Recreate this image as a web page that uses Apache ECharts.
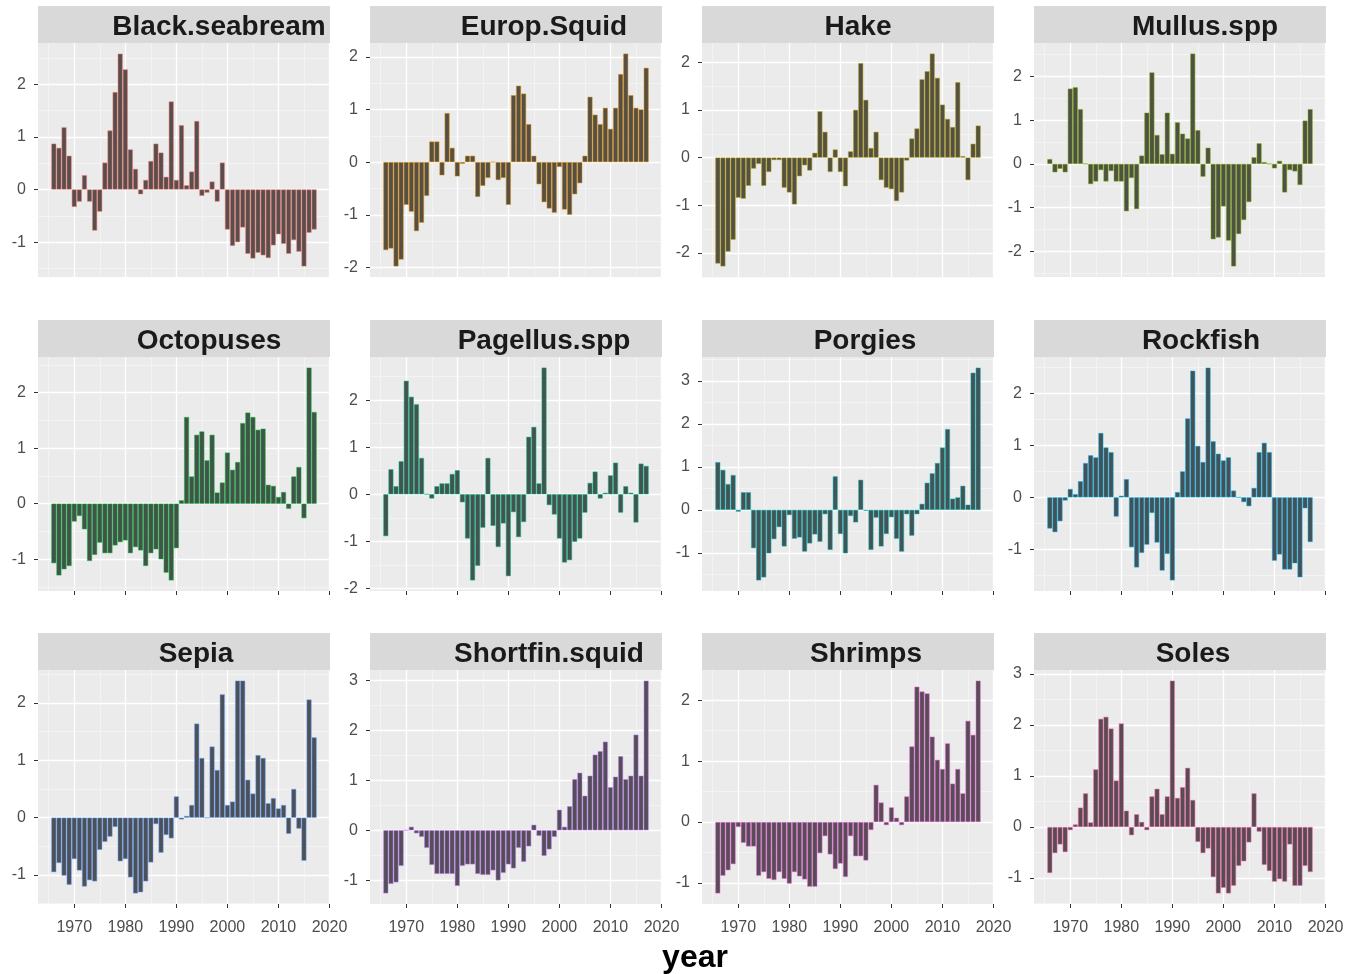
<!DOCTYPE html>
<html>
<head>
<meta charset="utf-8">
<script src="https://cdn.jsdelivr.net/npm/echarts@6/dist/echarts.min.js"></script>
<style>
  html, body { margin: 0; padding: 0; background: #fff; }
  #chart { width: 1352px; height: 974px; }
</style>
</head>
<body>
<div id="chart"></div>
<script>
// anomalies per species, one value per year from 1966 to 2017
var firstYear = 1966;

var blackSeabream = [0.87, 0.79, 1.18, 0.64, -0.33, -0.23, 0.27, -0.23, -0.78, -0.42,
  0.51, 1.12, 1.85, 2.58, 2.28, 0.76, 0.39, -0.09, 0.18, 0.54,
  0.87, 0.70, 0.24, 1.67, 0.18, 1.22, 0.08, 0.34, 1.30, -0.12,
  -0.06, 0.15, -0.23, 0.51, -0.76, -1.07, -1.00, -0.72, -1.22, -1.31,
  -1.20, -1.25, -1.30, -1.06, -0.85, -1.03, -1.22, -0.96, -1.18, -1.46,
  -0.82, -0.76];
var europSquid = [-1.67, -1.64, -1.98, -1.85, -0.81, -0.94, -1.31, -1.15, -0.64, 0.39,
  0.39, -0.25, 0.93, 0.27, -0.27, -0.03, 0.12, 0.12, -0.66, -0.45,
  -0.30, 0, -0.34, -0.30, -0.81, 1.27, 1.45, 1.30, 0.72, 0.12,
  -0.42, -0.76, -0.88, -0.96, -0.09, -0.90, -1.00, -0.61, -0.40, 0.12,
  1.24, 0.90, 0.72, 1.03, 0.63, 1.03, 1.67, 2.06, 1.27, 1.03,
  1.00, 1.79];
var hake = [-2.22, -2.28, -1.97, -1.72, -0.84, -0.86, -0.59, -0.23, -0.13, -0.59,
  -0.30, -0.05, -0.05, -0.63, -0.73, -0.98, -0.39, -0.16, -0.27, 0.10,
  0.97, 0.54, -0.30, 0.17, -0.30, -0.60, 0.13, 1.00, 1.98, 1.21,
  0.20, 0.54, -0.47, -0.63, -0.66, -0.91, -0.73, -0.06, 0.40, 0.61,
  1.64, 1.81, 2.18, 1.67, 1.11, 0.81, 0.64, 1.58, 0.03, -0.47,
  0.29, 0.67];
var mullus = [0.11, -0.19, -0.11, -0.19, 1.72, 1.75, 1.25, 0, -0.46, -0.40,
  -0.14, -0.40, -0.16, -0.40, -0.40, -1.08, -0.32, -1.03, 0.19, 1.17,
  2.09, 0.66, 0.22, 1.17, 0.23, 0.95, 0.69, 0.58, 2.52, 0.77,
  -0.29, 0.37, -1.72, -1.68, -0.97, -1.75, -2.34, -1.60, -1.28, -0.87,
  0.15, 0.47, 0.04, 0, -0.10, 0.07, -0.65, -0.14, -0.17, -0.48,
  0.99, 1.25];
var octopuses = [-1.07, -1.29, -1.18, -1.12, -0.32, -0.22, -0.46, -1.03, -0.92, -0.70,
  -0.89, -0.89, -0.75, -0.69, -0.66, -0.89, -0.78, -0.84, -1.12, -0.89,
  -0.82, -1.00, -1.24, -1.38, -0.80, 0.06, 1.56, 0.49, 1.24, 1.30,
  0.78, 1.24, 0.20, 0.38, 0.92, 0.61, 0.75, 1.45, 1.64, 1.56,
  1.33, 1.35, 0.34, 0.32, 0.12, 0.21, -0.09, 0.49, 0.66, -0.26,
  2.45, 1.65];
var pagellus = [-0.89, 0.53, 0.17, 0.70, 2.41, 2.07, 1.91, 0.77, 0, -0.09,
  0.17, 0.23, 0.23, 0.43, 0.51, -0.17, -0.94, -1.83, -1.52, -0.71,
  0.77, -0.67, -1.12, -0.62, -1.74, -0.38, -0.91, -0.59, 1.22, 1.43,
  0.23, 2.69, -0.23, -0.43, -0.94, -1.45, -1.40, -1.01, -0.94, -0.39,
  0.24, 0.48, -0.09, 0.03, 0.40, 0.67, -0.39, 0.17, 0.03, -0.60,
  0.65, 0.60];
var porgies = [1.11, 0.93, 0.60, 0.81, -0.04, 0.41, 0.41, -0.89, -1.64, -1.57,
  -1.01, -0.68, -0.40, -0.85, -0.12, -0.67, -0.64, -0.97, -0.78, -0.57,
  -0.74, -0.10, -0.93, 0.78, -0.56, -1.01, -0.14, -0.29, 0.70, -0.02,
  -0.93, -0.18, -0.85, -0.56, -0.17, -0.67, -0.97, -0.10, -0.60, -0.10,
  0.14, 0.63, 0.85, 1.09, 1.45, 1.88, 0.26, 0.29, 0.56, 0.12,
  3.19, 3.31];
var rockfish = [-0.60, -0.67, -0.46, -0.06, 0.16, 0.06, 0.31, 0.66, 0.81, 0.77,
  1.24, 0.96, 0.87, -0.37, 0.03, 0.35, -0.96, -1.35, -1.07, -0.91,
  -0.30, -0.87, -1.41, -1.09, -1.60, 0.10, 0.50, 1.52, 2.44, 0.99,
  0.68, 2.50, 1.08, 0.84, 0.71, 0.77, 0.13, 0, -0.09, -0.17,
  0.18, 0.87, 1.05, 0.87, -1.22, -1.10, -1.39, -1.39, -1.27, -1.54,
  -0.21, -0.86];
var sepia = [-0.95, -0.79, -1.01, -1.17, -0.72, -0.92, -1.20, -1.09, -1.11, -0.56,
  -0.42, -0.33, -0.16, -0.76, -0.72, -1.04, -1.32, -1.30, -1.11, -0.78,
  -0.11, -0.61, -0.30, -0.36, 0.37, -0.03, 0.03, 0.22, 1.64, 1.04,
  0, 1.24, 0.83, 2.15, 0.22, 0.28, 2.39, 2.39, 0.66, 0.42,
  1.09, 1.04, 0.25, 0.34, 0.16, 0.22, -0.28, 0.50, -0.19, -0.75,
  2.06, 1.40];
var shortfinSquid = [-1.26, -1.07, -1.04, -0.71, 0, 0.07, -0.06, -0.13, -0.35, -0.69,
  -0.87, -0.87, -0.87, -0.87, -1.11, -0.71, -0.68, -0.68, -0.87, -0.89,
  -0.89, -0.80, -1.00, -0.85, -0.68, -0.76, -0.35, -0.63, -0.32, 0.11,
  -0.11, -0.51, -0.38, -0.13, 0.41, 0.07, 0.48, 1.02, 1.15, 0.69,
  1.09, 1.51, 1.58, 1.77, 0.86, 1.07, 1.48, 1.02, 1.09, 1.91,
  1.09, 2.99];
var shrimps = [-1.17, -0.88, -0.79, -0.69, -0.08, -0.34, -0.40, -0.40, -0.88, -0.82,
  -0.93, -0.95, -0.82, -0.93, -1.01, -0.82, -0.89, -0.94, -1.06, -1.06,
  -0.51, -0.23, -0.53, -0.77, -0.68, -0.90, -0.23, -0.56, -0.56, -0.63,
  -0.13, 0.61, 0.32, -0.05, 0.24, 0.07, -0.05, 0.42, 1.24, 2.22,
  2.14, 2.11, 1.40, 1.02, 0.87, 1.29, 0.63, 0.87, 0.47, 1.66,
  1.43, 2.32];
var soles = [-0.90, -0.51, -0.34, -0.49, -0.06, 0.05, 0.38, 0.66, 0.09, 1.13,
  2.12, 2.16, 1.93, 0.91, 2.03, 0.32, -0.16, 0.25, 0.10, -0.06,
  0.60, 0.75, 0.25, 0.60, 2.87, 0.57, 0.78, 1.16, 0.53, -0.29,
  -0.51, -0.42, -0.98, -1.30, -1.19, -1.30, -1.15, -0.76, -0.67, -0.30,
  0.66, -0.09, -0.74, -0.86, -1.07, -1.02, -1.07, -0.34, -1.15, -1.15,
  -0.76, -0.88];

var speciesNames = ['Black.seabream', 'Europ.Squid', 'Hake', 'Mullus.spp',
  'Octopuses', 'Pagellus.spp', 'Porgies', 'Rockfish',
  'Sepia', 'Shortfin.squid', 'Shrimps', 'Soles'];
var speciesValues = [blackSeabream, europSquid, hake, mullus,
  octopuses, pagellus, porgies, rockfish,
  sepia, shortfinSquid, shrimps, soles];

var majorYears = [1970, 1980, 1990, 2000, 2010, 2020];
var minorYears = [1965, 1975, 1985, 1995, 2005, 2015];

// layout / style
var hues = ['#F8766D', '#DE8C00', '#B79F00', '#7CAE00', '#00BA38', '#00C08B',
  '#00BFC4', '#00B4F0', '#619CFF', '#C77CFF', '#F564E3', '#FF64B0'];
var titleCenters = [219, 544, 858, 1205, 209, 544, 865, 1201, 196, 549, 866, 1193];
var colLeft = [38, 370, 702, 1034];
var rowTop = [43, 357, 670];
var panelW = 292, panelH = 234, stripH = 37;
var xMin = 1962.9, xMax = 2020.1;
var barPx = panelW / (xMax - xMin) * 0.95;
var font = 'Liberation Sans';

function mix(hex, t) {
  var r = parseInt(hex.substr(1, 2), 16), g = parseInt(hex.substr(3, 2), 16), b = parseInt(hex.substr(5, 2), 16);
  var base = 74;
  return 'rgb(' + Math.round(base + (r - base) * t) + ',' + Math.round(base + (g - base) * t) + ',' + Math.round(base + (b - base) * t) + ')';
}

var chart = echarts.init(document.getElementById('chart'));

var grids = [], xMain = [], xMinor = [], yMain = [], yMinor = [], series = [], graphics = [];

speciesNames.forEach(function (name, i) {
  var row = Math.floor(i / 4), col = i % 4;
  var left = colLeft[col], top = rowTop[row];
  var vals = speciesValues[i];

  grids.push({
    left: left, top: top, width: panelW, height: panelH,
    show: true, backgroundColor: '#EBEBEB', borderWidth: 0,
    containLabel: false, outerBoundsMode: 'none'
  });

  var lo = Math.min(0, Math.min.apply(null, vals));
  var hi = Math.max(0, Math.max.apply(null, vals));
  var pad = (hi - lo) * 0.05;
  var yMin = lo - pad, yMax = hi + pad;
  var yMajors = [], yMinors = [];
  for (var k = Math.ceil(yMin); k <= Math.floor(yMax); k++) yMajors.push(k);
  for (var m = Math.floor(yMin); m + 0.5 <= yMax; m++) {
    if (m + 0.5 >= yMin) yMinors.push(m + 0.5);
  }

  xMain.push({
    type: 'value', gridIndex: i, min: xMin, max: xMax, position: 'bottom',
    axisLine: { show: false, onZero: false },
    axisTick: { show: row > 0, customValues: majorYears, length: 4, lineStyle: { color: '#333333', width: 1 } },
    axisLabel: {
      show: row === 2, customValues: majorYears, fontSize: 16, fontFamily: font, color: '#4D4D4D', margin: 16,
      formatter: function (v) { return String(v); }
    },
    splitLine: { show: true, lineStyle: { color: '#FFFFFF', width: 1.3 } }
  });
  xMinor.push({
    type: 'value', gridIndex: i, min: xMin, max: xMax,
    axisLine: { show: false, onZero: false },
    axisTick: { show: false, customValues: minorYears },
    axisLabel: { show: false, customValues: minorYears },
    splitLine: { show: true, lineStyle: { color: '#F7F7F7', width: 0.7 } }
  });
  yMain.push({
    type: 'value', gridIndex: i, min: yMin, max: yMax, position: 'left',
    axisLine: { show: false, onZero: false },
    axisTick: { show: true, customValues: yMajors, length: 4, lineStyle: { color: '#333333', width: 1 } },
    axisLabel: { customValues: yMajors, fontSize: 16, fontFamily: font, color: '#4D4D4D', margin: 12 },
    splitLine: { show: true, lineStyle: { color: '#FFFFFF', width: 1.3 } }
  });
  yMinor.push({
    type: 'value', gridIndex: i, min: yMin, max: yMax,
    axisLine: { show: false, onZero: false },
    axisTick: { show: false, customValues: yMinors },
    axisLabel: { show: false, customValues: yMinors },
    splitLine: { show: true, lineStyle: { color: '#F7F7F7', width: 0.7 } }
  });

  series.push({
    name: name,
    type: 'bar',
    xAxisIndex: i,
    yAxisIndex: i,
    barWidth: barPx,
    data: vals.map(function (v, j) { return [firstYear + j, v]; }),
    itemStyle: { color: mix(hues[i], 0.08), borderColor: hues[i], borderWidth: 0.5 },
    silent: true
  });

  graphics.push({
    type: 'rect',
    shape: { x: left, y: top - stripH, width: panelW, height: stripH },
    style: { fill: '#D9D9D9' }
  });
  graphics.push({
    type: 'text',
    x: titleCenters[i], y: top - stripH / 2 + 3,
    style: {
      text: name, font: 'bold 28px "Liberation Sans"', fill: '#1A1A1A',
      textAlign: 'center', textVerticalAlign: 'middle', align: 'center', verticalAlign: 'middle'
    }
  });
});

graphics.push({
  type: 'text',
  x: 695, y: 958,
  style: {
    text: 'year', font: 'bold 32px "Liberation Sans"', fill: '#000000',
    textAlign: 'center', textVerticalAlign: 'middle', align: 'center', verticalAlign: 'middle'
  }
});

var option = {
  animation: false,
  backgroundColor: '#FFFFFF',
  textStyle: { fontFamily: font },
  grid: grids,
  xAxis: xMain.concat(xMinor),
  yAxis: yMain.concat(yMinor),
  series: series,
  graphic: { elements: graphics }
};

chart.setOption(option);
</script>
</body>
</html>
